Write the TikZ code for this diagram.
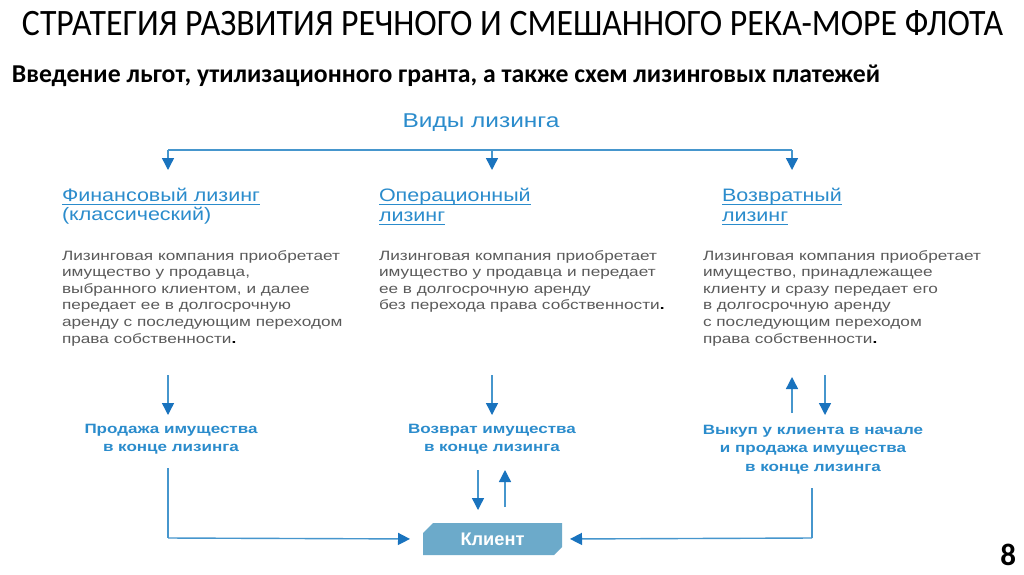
\documentclass[tikz,border=0pt]{standalone}
\usepackage{fontspec}
\setmainfont{Carlito}
\newfontfamily\arialf{Liberation Sans}
\usetikzlibrary{arrows.meta}
\definecolor{hblue}{RGB}{43,140,204}
\definecolor{ablue}{RGB}{25,115,190}
\definecolor{lblue}{RGB}{70,150,205}
\definecolor{bgray}{RGB}{90,90,90}
\definecolor{boxfill}{RGB}{108,170,202}
\newlength\myrefw
\newcommand\bodyfont{\arialf\fontsize{13.5}{16.6}\selectfont}
\newcommand\headfont{\arialf\fontsize{18}{20}\selectfont}
\newcommand\labfont{\arialf\bfseries\fontsize{13.5}{18.5}\selectfont}
\newcommand\vidfont{\arialf\fontsize{20}{22}\selectfont}
\begin{document}%
\settowidth\myrefw{\bodyfont Лизинговая компания приобретает}%
\pgfmathsetmacro\bsx{278/\the\myrefw}%
\settowidth\myrefw{\headfont Финансовый лизинг}%
\pgfmathsetmacro\hsx{198/\the\myrefw}%
\settowidth\myrefw{\labfont Продажа имущества}%
\pgfmathsetmacro\lsx{173/\the\myrefw}%
\settowidth\myrefw{\vidfont Виды лизинга}%
\pgfmathsetmacro\vsx{157/\the\myrefw}%
\begin{tikzpicture}[x=1pt,y=-1pt,
  txt/.style={inner sep=0pt,outer sep=0pt},
  conn/.style={lblue,line width=1.4pt,-{Triangle[width=12pt,length=12pt,color=ablue]}},
  plain/.style={lblue,line width=1.4pt},
  uline/.style={hblue,line width=1pt}]
\fill[white] (0,0) rectangle (1024,574);
\useasboundingbox (0,0) rectangle (1024,574);
% titles
\node[txt,anchor=base west] (title) at (22,35) {\resizebox{981pt}{25pt}{СТРАТЕГИЯ РАЗВИТИЯ РЕЧНОГО И СМЕШАННОГО РЕКА-МОРЕ ФЛОТА}};
\node[txt,anchor=base west] (sub) at (12,82) {\resizebox{868pt}{!}{\bfseries\fontsize{22}{22}\selectfont Введение льгот, утилизационного гранта, а также схем лизинговых платежей}};
\node[txt,anchor=base east] (pg) at (1016,565) {\bfseries\fontsize{31}{31}\selectfont 8};
% top
\node[txt,anchor=base,text=hblue] (vid) at (481,127) {\scalebox{\vsx}[1]{\vidfont Виды лизинга}};
\coordinate (b1) at (168,150);
\coordinate (b2) at (492,150);
\coordinate (b3) at (792,150);
\coordinate (t1) at (168,170);
\coordinate (t2) at (492,170);
\coordinate (t3) at (792,170);
\draw[plain] (b1) -- (b3);
\draw[conn] (b1) -- (t1);
\draw[conn] (b2) -- (t2);
\draw[conn] (b3) -- (t3);
% headings
\node[txt,anchor=base west,text=hblue] (h1a) at (62,201) {\scalebox{\hsx}[1]{\headfont Финансовый лизинг}};
\node[txt,anchor=base west,text=hblue] (h1b) at (62,220) {\scalebox{\hsx}[1]{\headfont (классический)}};
\node[txt,anchor=base west,text=hblue] (h2a) at (379,201) {\scalebox{\hsx}[1]{\headfont Операционный}};
\node[txt,anchor=base west,text=hblue] (h2b) at (379,221) {\scalebox{\hsx}[1]{\headfont лизинг}};
\node[txt,anchor=base west,text=hblue] (h3a) at (722,201) {\scalebox{\hsx}[1]{\headfont Возвратный}};
\node[txt,anchor=base west,text=hblue] (h3b) at (722,221) {\scalebox{\hsx}[1]{\headfont лизинг}};
\foreach \n in {h1a,h2a,h2b,h3a,h3b}{
  \draw[uline] ([yshift=-3.5pt]\n.base west) -- ([yshift=-3.5pt]\n.base east);}
% bodies
\node[txt,anchor=base west,text=bgray] (d1) at (62,260) {\scalebox{\bsx}[1]{\bodyfont\begin{tabular}[t]{@{}l@{}}
Лизинговая компания приобретает\\
имущество у продавца,\\
выбранного клиентом, и далее\\
передает ее в долгосрочную\\
аренду с последующим переходом\\
права собственности\textcolor{black}{\textbf{.}}\end{tabular}}};
\node[txt,anchor=base west,text=bgray] (d2) at (379,260) {\scalebox{\bsx}[1]{\bodyfont\begin{tabular}[t]{@{}l@{}}
Лизинговая компания приобретает\\
имущество у продавца и передает\\
ее в долгосрочную аренду\\
без перехода права собственности\textcolor{black}{\textbf{.}}\end{tabular}}};
\node[txt,anchor=base west,text=bgray] (d3) at (703,260) {\scalebox{\bsx}[1]{\bodyfont\begin{tabular}[t]{@{}l@{}}
Лизинговая компания приобретает\\
имущество, принадлежащее\\
клиенту и сразу передает его\\
в долгосрочную аренду\\
с последующим переходом\\
права собственности\textcolor{black}{\textbf{.}}\end{tabular}}};
% arrows to outcomes
\coordinate (a1s) at (168,375); \coordinate (a1e) at (168,415);
\coordinate (a2s) at (492,375); \coordinate (a2e) at (492,415);
\coordinate (a3s) at (792,413); \coordinate (a3e) at (792,377);
\coordinate (a4s) at (825,375); \coordinate (a4e) at (825,415);
\draw[conn] (a1s) -- (a1e);
\draw[conn] (a2s) -- (a2e);
\draw[conn] (a3s) -- (a3e);
\draw[conn] (a4s) -- (a4e);
% outcomes
\node[txt,anchor=base,text=hblue] (o1) at (171,433) {\scalebox{\lsx}[1]{\labfont\begin{tabular}[t]{@{}c@{}}Продажа имущества\\в конце лизинга\end{tabular}}};
\node[txt,anchor=base,text=hblue] (o2) at (492,433) {\scalebox{\lsx}[1]{\labfont\begin{tabular}[t]{@{}c@{}}Возврат имущества\\в конце лизинга\end{tabular}}};
\node[txt,anchor=base,text=hblue] (o3) at (813,434) {\scalebox{\lsx}[1]{\labfont\begin{tabular}[t]{@{}c@{}}Выкуп у клиента в начале\\и продажа имущества\\в конце лизинга\end{tabular}}};
% client
\fill[boxfill] (423,533) -- (433,523) -- (562,523) -- (562,547) -- (554,555) -- (423,555) -- cycle;
\node[txt,minimum width=139pt,minimum height=32pt,text=white] (cl) at (492.5,539) {\resizebox{64pt}{!}{\arialf\bfseries\fontsize{16}{16}\selectfont Клиент}};
% connectors to client
\coordinate (l1) at (168,468);
\coordinate (r1) at (812,488);
\draw[plain] (l1) -- (168,538);
\draw[conn,shorten >=13pt] (168,538) -- (cl.west);
\draw[plain] (r1) -- (812,538);
\draw[conn,shorten >=8pt] (812,538) -- (cl.east);
\coordinate (m1s) at (478,470); \coordinate (m1e) at (478,510);
\coordinate (m2s) at (505,507); \coordinate (m2e) at (505,470);
\draw[conn] (m1s) -- (m1e);
\draw[conn] (m2s) -- (m2e);
\end{tikzpicture}%
\end{document}
